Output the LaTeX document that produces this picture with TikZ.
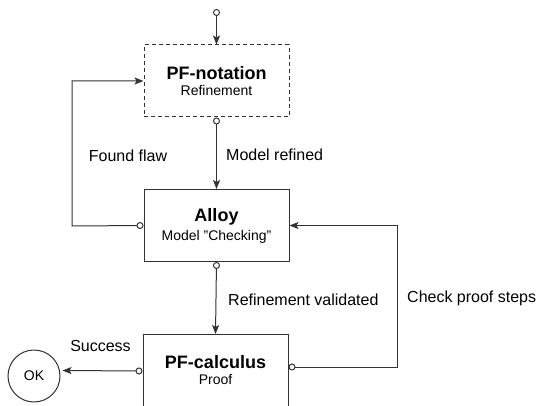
\documentclass[tikz,border=0pt]{standalone}
\usepackage{fontspec}
\setmainfont{Liberation Sans}
\usetikzlibrary{arrows.meta}
\definecolor{ln}{HTML}{333333}
\tikzset{
  box/.style={draw=ln, line width=1pt, minimum width=145pt, minimum height=72pt, inner sep=0pt, align=center, fill=white},
  conn/.style={draw=ln, line width=1pt, {Circle[open,length=7pt,width=7pt,fill=white]}-{Stealth[length=9pt,width=7pt,inset=2pt]}},
  lbl/.style={font=\fontsize{16}{18}\selectfont, inner sep=0pt, text=black},
}
\newcommand{\boxtext}[2]{{\fontsize{18}{20}\selectfont\bfseries #1}\\[4pt]{\fontsize{14}{16}\selectfont #2}}
\begin{document}
\begin{tikzpicture}[x=1pt,y=-1pt]
\useasboundingbox (0,0) rectangle (540,406);
\node[box, dashed, dash pattern=on 4pt off 3pt] (pfn) at (216.5,81) {\boxtext{PF-notation}{Refinement}};
\node[box] (alloy) at (216.5,225.5) {\boxtext{Alloy}{Model \char34 Checking\char34}};
\node[box] (pfc) at (215.5,370.5) {\boxtext{PF-calculus}{Proof}};
\node[draw=ln, line width=1pt, circle, minimum size=52pt, inner sep=0pt, font=\fontsize{14}{16}\selectfont] (ok) at (34,376) {OK};
\coordinate (top) at (216.5,9);
\coordinate (fl) at (72,226);
\coordinate (cp) at (397,367);
\draw[conn] (top) -- (pfn.north);
\draw[conn] (pfn.south) -- (alloy.north);
\draw[conn] (alloy.west) -- (fl) |- (pfn.west);
\draw[conn] (alloy.south) -- (pfc.north);
\draw[conn] ([yshift=3.5pt]pfc.east) -- (cp) |- (alloy.east);
\draw[conn] ([yshift=-0.5pt]pfc.west) -- ([xshift=2pt]ok.east |- pfc.west);
\node[lbl] (l1) at (128,156) {Found flaw};
\node[lbl, anchor=west] (l2) at (226,155) {Model refined};
\node[lbl, anchor=west] (l3) at (228,300) {Refinement validated};
\node[lbl, anchor=west] (l4) at (407,298) {Check proof steps};
\node[lbl] (l5) at (100.5,346) {Success};
\end{tikzpicture}
\end{document}
